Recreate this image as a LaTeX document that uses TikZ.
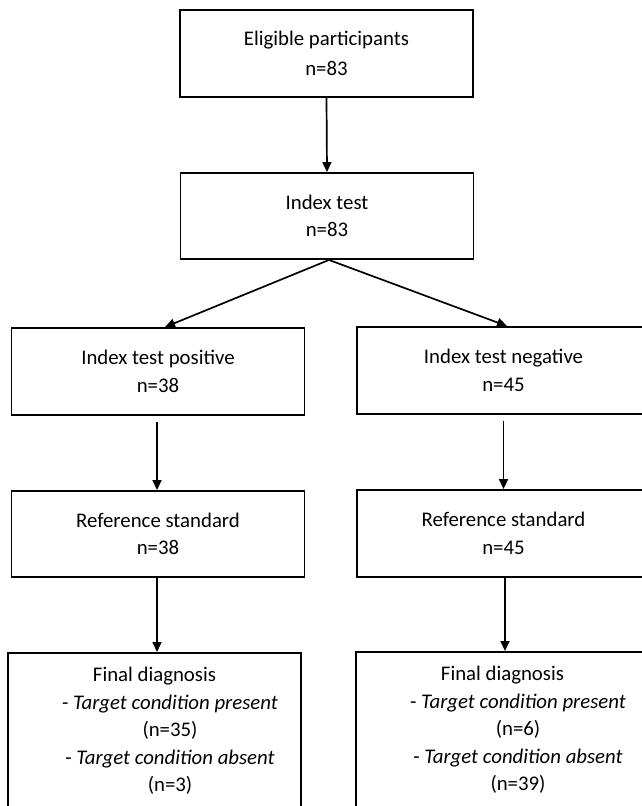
\documentclass[tikz,border=0pt]{standalone}
\usepackage{fontspec}
\setmainfont{Carlito}
\usetikzlibrary{arrows.meta}
\begin{document}
\begin{tikzpicture}[x=1pt,y=-1pt,
  box/.style={draw=black, line width=1.9pt, minimum width=293pt, minimum height=87pt,
    align=center, inner sep=0pt, font=\fontsize{20.8pt}{27.5pt}\selectfont},
  txt/.style={align=center, inner sep=0pt, font=\fontsize{20.8pt}{27.5pt}\selectfont},
  arr/.style={line width=1.7pt, -{Triangle[length=10pt,width=9pt]}}]
\useasboundingbox (0,0) rectangle (642,806);
\fill[white] (0,0) rectangle (642,806);
\clip (0,0) rectangle (642,806);
% boxes
\node[box] (b1) at (326.5,53.5) {Eligible participants\\[2.5pt]n=83};
\node[box, minimum height=86pt] (b2) at (327,216) {Index test\\n=83};
\node[box] (b3l) at (158,371.5) {Index test positive\\n=38};
\node[box] (b3r) at (503.5,370.5) {Index test negative\\n=45};
\node[box, minimum height=86pt] (rsl) at (158,534) {Reference standard\\n=38};
\node[box] (rsr) at (503.5,533.5) {Reference standard\\n=45};
\node[box, minimum height=220pt, anchor=north] (fdl) at (154.5,652) {};
\node[box, minimum height=220pt, anchor=north] (fdr) at (502.5,651) {};
\node[txt] (fdlt) at (154.5,731) {Final diagnosis\\
  \hspace*{31pt}- \textit{Target condition present}\\
  \hspace*{31pt}(n=35)\\
  \hspace*{31pt}- \textit{Target condition absent}\\
  \hspace*{31pt}(n=3)};
\node[txt] (fdrt) at (502.5,730) {Final diagnosis\\
  \hspace*{31pt}- \textit{Target condition present}\\
  \hspace*{31pt}(n=6)\\
  \hspace*{31pt}- \textit{Target condition absent}\\
  \hspace*{31pt}(n=39)};
% connectors
\draw[arr] (b1.south) -- (b2.north);
\draw[arr] ([xshift=2pt]b2.south) -- ([xshift=7pt]b3l.north);
\draw[arr] ([xshift=2pt]b2.south) -- ([xshift=3.5pt]b3r.north);
\draw[arr] ([xshift=-1pt,yshift=-6pt]b3l.south) -- ([xshift=-1pt]rsl.north);
\draw[arr] ([yshift=-6pt]b3r.south) -- (rsr.north);
\draw[arr] ([xshift=-1pt]rsl.south) -- ([xshift=2.5pt]fdl.north);
\draw[arr] ([xshift=1.5pt]rsr.south) -- ([xshift=2.5pt]fdr.north);
\end{tikzpicture}
\end{document}
